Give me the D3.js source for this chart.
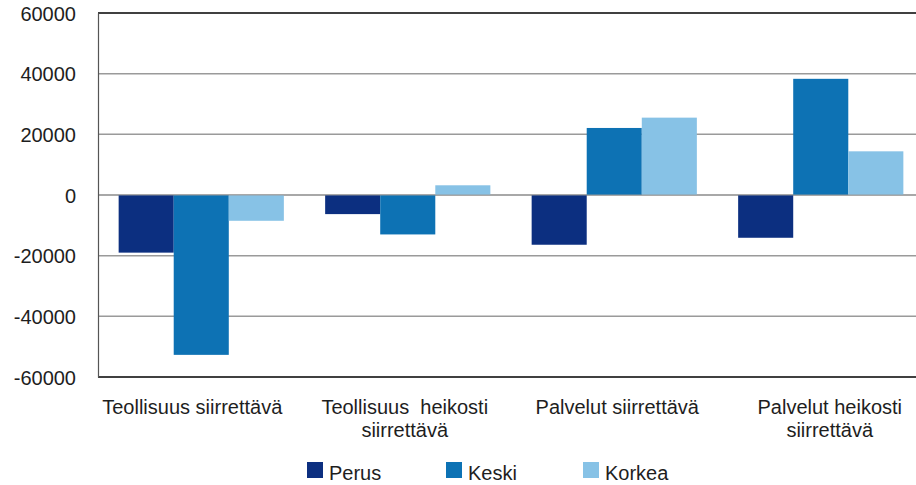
<!DOCTYPE html>
<html>
<head>
<meta charset="utf-8">
<script src="https://cdn.jsdelivr.net/npm/d3@7"></script>
<style>
  body { margin: 0; background: #fff; }
  text { font-family: "Liberation Sans", Arial, sans-serif; fill: #1e1e1e; }
</style>
</head>
<body>
<svg id="chart" width="916" height="485"></svg>
<script>
const categories = [
  ['Teollisuus siirrettävä'],
  ['Teollisuus  heikosti', 'siirrettävä'],
  ['Palvelut siirrettävä'],
  ['Palvelut heikosti', 'siirrettävä'],
];
const seriesNames = ['Perus', 'Keski', 'Korkea'];
const perus = [-19000, -6300, -16400, -14100];
const keski = [-52700, -13000, 22100, 38300];
const korkea = [-8500, 3200, 25500, 14400];
const yTicks = [-60000, -40000, -20000, 0, 20000, 40000, 60000];

const colors = ['#0c2f80', '#0d72b4', '#87c2e6'];
const seriesValues = [perus, keski, korkea];

const svg = d3.select('#chart');
const margin = { top: 13, left: 98 };
const plotBottom = 377;
const step = 206.5;
const keys = categories.map((c, i) => i);

const x0 = d3.scaleBand()
  .domain(keys)
  .range([margin.left, margin.left + step * keys.length])
  .padding(0);

const x1 = d3.scaleBand()
  .domain(seriesNames)
  .range([x0.bandwidth() * 0.1, x0.bandwidth() * 0.9])
  .padding(0);

const y = d3.scaleLinear()
  .domain([-60000, 60000])
  .range([plotBottom, margin.top]);

// gridlines
svg.append('g')
  .selectAll('line')
  .data(yTicks)
  .enter()
  .append('line')
  .attr('x1', margin.left)
  .attr('x2', 916)
  .attr('y1', d => y(d))
  .attr('y2', d => y(d))
  .attr('stroke', d => (d === 60000 || d === -60000) ? '#000' : '#9a9a9a')
  .attr('stroke-width', 1.5);

// bars
const groups = svg.append('g')
  .selectAll('g')
  .data(keys)
  .enter()
  .append('g')
  .attr('transform', i => 'translate(' + x0(i) + ',0)');

groups.selectAll('rect')
  .data(i => seriesNames.map((s, j) => ({ s: s, j: j, v: seriesValues[j][i] })))
  .enter()
  .append('rect')
  .attr('x', d => x1(d.s))
  .attr('width', x1.bandwidth())
  .attr('y', d => y(Math.max(0, d.v)))
  .attr('height', d => Math.abs(y(d.v) - y(0)))
  .attr('fill', d => colors[d.j]);

// zero line above bars
svg.append('line')
  .attr('x1', margin.left)
  .attr('x2', 916)
  .attr('y1', y(0))
  .attr('y2', y(0))
  .attr('stroke', '#9a9a9a')
  .attr('stroke-width', 1.5)
  .attr('stroke-opacity', 0.6);

// left axis
const yAxis = svg.append('g')
  .attr('transform', 'translate(' + margin.left + ',0)')
  .call(d3.axisLeft(y).tickValues(yTicks).tickSize(0).tickPadding(22).tickFormat(d => String(d)));
yAxis.select('.domain').attr('stroke', '#555').attr('stroke-width', 1.2);
yAxis.selectAll('text')
  .attr('font-size', 20)
  .attr('font-family', '"Liberation Sans", Arial, sans-serif')
  .attr('fill', '#1e1e1e')
  .attr('dy', '0.36em');

// category labels
const xl = d3.scaleBand()
  .domain(keys)
  .range([86, 936]);

const labels = svg.append('g')
  .selectAll('text')
  .data(keys)
  .enter()
  .append('text')
  .attr('text-anchor', 'middle')
  .attr('font-size', 20)
  .attr('xml:space', 'preserve')
  .style('white-space', 'pre');

labels.selectAll('tspan')
  .data(i => categories[i].map(t => ({ t: t, i: i })))
  .enter()
  .append('tspan')
  .attr('x', d => xl(d.i) + xl.bandwidth() / 2)
  .attr('y', (d, k) => 414 + k * 23)
  .text(d => d.t);

// legend
const legendX = [307, 446, 583];
const legend = svg.append('g')
  .selectAll('g')
  .data(seriesNames)
  .enter()
  .append('g')
  .attr('transform', (d, i) => 'translate(' + legendX[i] + ',462)');

legend.append('rect')
  .attr('width', 16)
  .attr('height', 16)
  .attr('fill', (d, i) => colors[i]);

legend.append('text')
  .attr('x', 22)
  .attr('y', 18)
  .attr('font-size', 20)
  .text(d => d);
</script>
</body>
</html>
